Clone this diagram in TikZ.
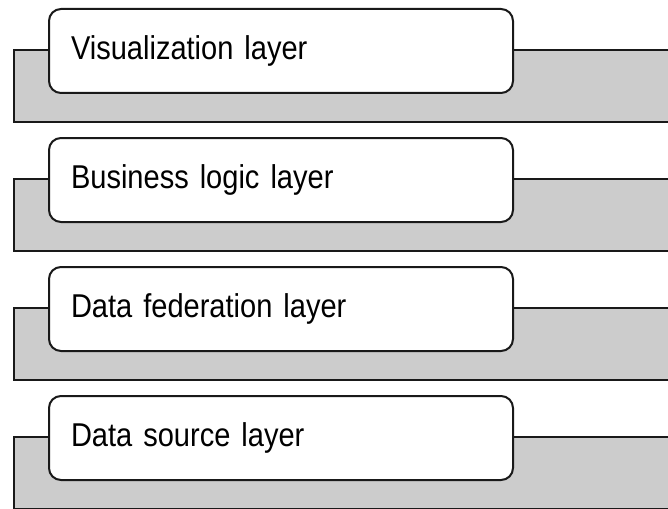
\documentclass[tikz,border=0pt]{standalone}
\usepackage{fontspec}
\setmainfont{Liberation Sans}[FakeStretch=0.88]

\begin{document}
\begin{tikzpicture}[x=1pt,y=-1pt,
    layerbox/.style={draw=black!90, line width=2pt, fill=white, rounded corners=12pt,
      minimum height=84pt, text width=420pt, inner xsep=22pt, align=left,
      anchor=north west, font=\fontsize{33}{36}\selectfont},
    band/.style={draw=black!90, line width=2pt, fill=black!20}]
      \useasboundingbox (0,0) rectangle (668,508);
      \clip (0,0) rectangle (668,508);
      \foreach \i/\txt in {0/Visualization layer, 1/Business logic layer,
                           2/Data federation layer, 3/Data source layer}{
        \pgfmathsetmacro{\ly}{8+129*\i}
        \draw[band] (14,\ly+42) rectangle (690,\ly+114);
        \node[layerbox] (layer\i) at (48,\ly) {\txt};
      }
    \end{tikzpicture}
\end{document}
